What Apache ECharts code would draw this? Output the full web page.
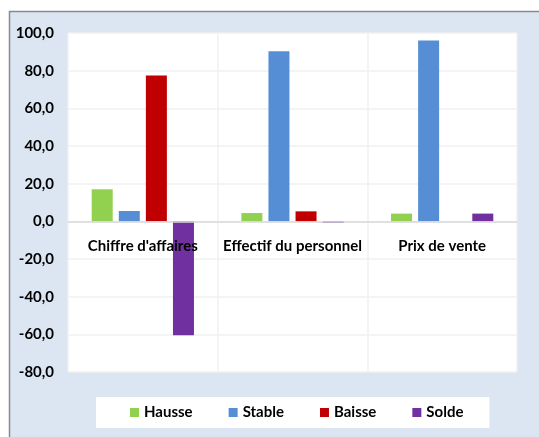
<!DOCTYPE html>
<html>
<head>
<meta charset="utf-8">
<script src="https://cdn.jsdelivr.net/npm/echarts@6/dist/echarts.min.js"></script>
<style>
  html, body { margin: 0; padding: 0; background: #fff; }
  #main { width: 539px; height: 437px; }
</style>
</head>
<body>
<div id="main"></div>
<script>
let categories = ["Chiffre d'affaires", 'Effectif du personnel', 'Prix de vente'];
let hausse = [17.0, 4.4, 4.1];
let stable = [5.5, 90.3, 96.0];
let baisse = [77.5, 5.3, 0];
let solde = [-60.5, -0.9, 4.1];
let yMin = -80, yMax = 100, yStep = 20;

let myChart = echarts.init(document.getElementById('main'));

let font = 'Lato';
let fmt = function (v) { return v.toFixed(1).replace('.', ','); };

let gridTop = 33, gridBottom = 65;
let gridHeight = 437 - gridTop - gridBottom;
// place the category axis on the zero line
let zeroOffset = -gridHeight * (0 - yMin) / (yMax - yMin);

function bar(name, data, color) {
    return {
        name: name,
        type: 'bar',
        data: data,
        barWidth: 21,
        barGap: '29%',
        itemStyle: { color: color }
    };
}

let option = {
    animation: false,
    backgroundColor: '#fff',
    graphic: [{
        type: 'rect',
        z: -10,
        shape: { x: 9.5, y: 11.5, width: 560, height: 460 },
        style: { fill: '#dce6f2', stroke: '#8a8a8a', lineWidth: 1.5 }
    }],
    grid: {
        left: 68, right: 22, top: gridTop, bottom: gridBottom,
        show: true, backgroundColor: '#fff', borderWidth: 0
    },
    legend: {
        left: 96, top: 397,
        padding: [8, 26, 8, 34],
        backgroundColor: '#fff',
        itemWidth: 9, itemHeight: 9, itemGap: 36,
        icon: 'rect',
        textStyle: { fontFamily: font, fontSize: 15, color: '#000', fontWeight: 'bold' },
        data: ['Hausse', 'Stable', 'Baisse', 'Solde']
    },
    xAxis: {
        type: 'category',
        data: categories,
        position: 'bottom',
        offset: zeroOffset,
        z: 5,
        axisLine: { onZero: false, lineStyle: { color: '#d9d9d9', width: 1.5 } },
        axisTick: { show: false },
        axisLabel: { interval: 0, fontFamily: font, fontSize: 15, color: '#000', fontWeight: 'bold', margin: 17 },
        splitLine: { show: true, lineStyle: { color: '#f0f0f0', width: 1.5 } }
    },
    yAxis: {
        type: 'value',
        min: yMin, max: yMax, interval: yStep,
        axisLine: { show: false },
        axisTick: { show: false },
        axisLabel: { fontFamily: font, fontSize: 15, color: '#000', fontWeight: 'bold', margin: 14, formatter: fmt },
        splitLine: { lineStyle: { color: '#f0f0f0', width: 1.5 } }
    },
    series: [
        bar('Hausse', hausse, '#92d050'),
        bar('Stable', stable, '#558ed5'),
        bar('Baisse', baisse, '#c00000'),
        bar('Solde', solde, '#7030a0')
    ]
};

myChart.setOption(option);
</script>
</body>
</html>
